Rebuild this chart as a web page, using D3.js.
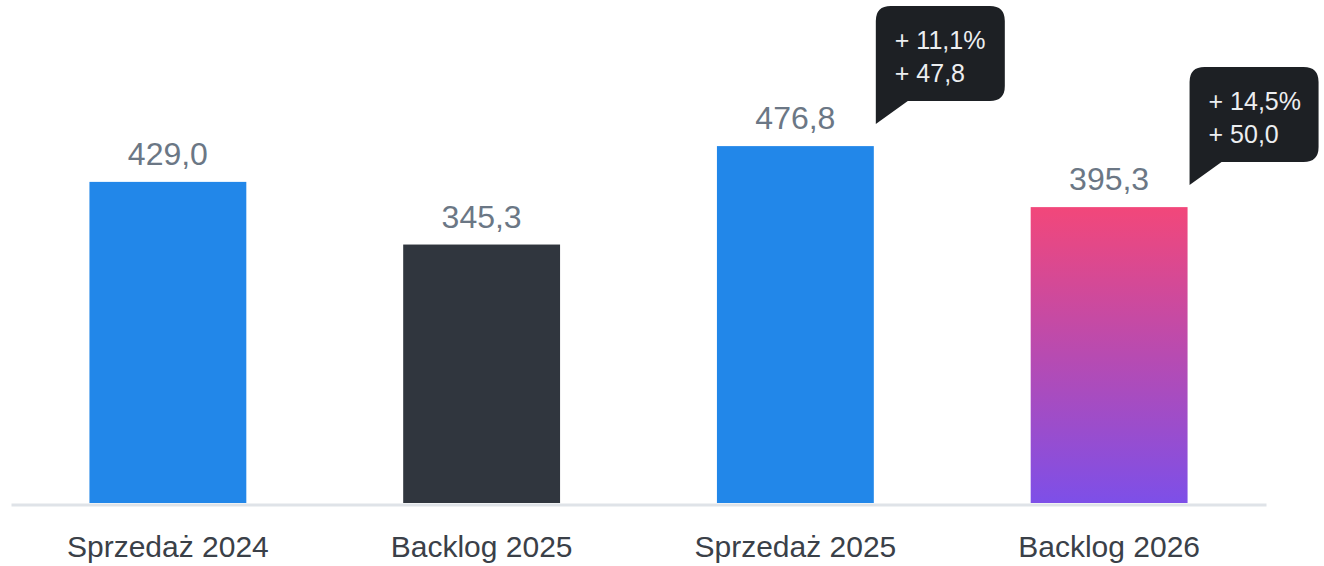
<!DOCTYPE html>
<html>
<head>
<meta charset="utf-8">
<script src="https://cdnjs.cloudflare.com/ajax/libs/d3/7.8.5/d3.min.js"></script>
<style>
  html, body { margin: 0; padding: 0; background: #fff; }
  svg { display: block; font-family: "Liberation Sans", Arial, sans-serif; }
</style>
</head>
<body>
<script>
// chart data
var categories = ["Sprzedaż 2024", "Backlog 2025", "Sprzedaż 2025", "Backlog 2026"];
var values = [429.0, 345.3, 476.8, 395.3];
var changePct = [null, null, 11.1, 14.5];
var changeAbs = [null, null, 47.8, 50.0];

var w = 1324, h = 566;
var base = 503;

var pl = d3.formatLocale({decimal: ",", thousands: " ", grouping: [3], currency: ["", ""]});
var fmt = pl.format(".1f");

var svg = d3.select("body").append("svg")
  .attr("width", w)
  .attr("height", h);

var defs = svg.append("defs");
var grad = defs.append("linearGradient")
  .attr("id", "backlogGrad")
  .attr("x1", 0).attr("y1", 0).attr("x2", 0).attr("y2", 1);
grad.append("stop").attr("offset", "0%").attr("stop-color", "#f2477a");
grad.append("stop").attr("offset", "100%").attr("stop-color", "#7d4fe8");

var xScale = d3.scaleBand()
  .domain(categories)
  .range([11, 1266])
  .paddingInner(0.5)
  .paddingOuter(0.25);

var yScale = d3.scaleLinear()
  .domain([0, 672])
  .range([base, 0]);

var colors = ["#2287e9", "#30363e", "#2287e9", "url(#backlogGrad)"];

var rows = categories.map(function(c, i) {
  return {cat: c, val: values[i], pct: changePct[i], abs: changeAbs[i], color: colors[i]};
});

// bars
svg.selectAll(".bar")
  .data(rows)
  .enter()
  .append("rect")
  .attr("class", "bar")
  .attr("x", function(d) { return xScale(d.cat); })
  .attr("y", function(d) { return yScale(d.val); })
  .attr("width", xScale.bandwidth())
  .attr("height", function(d) { return base - yScale(d.val); })
  .attr("fill", function(d) { return d.color; });

// base line
var xAxis = d3.axisBottom(xScale).tickSize(0).tickPadding(0).tickFormat("");
var ax = svg.append("g")
  .attr("transform", "translate(0," + (base + 1.5) + ")")
  .call(xAxis);
ax.select(".domain").attr("stroke", "#dfe3e8").attr("stroke-width", 3);

// category labels
svg.selectAll(".cat")
  .data(rows)
  .enter()
  .append("text")
  .attr("class", "cat")
  .attr("x", function(d) { return xScale(d.cat) + xScale.bandwidth() / 2; })
  .attr("y", 557)
  .attr("text-anchor", "middle")
  .attr("fill", "#3a4048")
  .style("font-size", "30px")
  .text(function(d) { return d.cat; });

// value labels
svg.selectAll(".val")
  .data(rows)
  .enter()
  .append("text")
  .attr("class", "val")
  .attr("x", function(d) { return xScale(d.cat) + xScale.bandwidth() / 2; })
  .attr("y", function(d) { return yScale(d.val) - 17; })
  .attr("text-anchor", "middle")
  .attr("fill", "#6b7785")
  .style("font-size", "32px")
  .text(function(d) { return fmt(d.val); });

// callouts
var bw = 129, bh = 95, r = 15;
var callouts = svg.selectAll(".callout")
  .data(rows.filter(function(d) { return d.pct != null; }))
  .enter()
  .append("g")
  .attr("class", "callout")
  .attr("transform", function(d) {
    var tx = xScale(d.cat) + xScale.bandwidth() + 2;
    var ty = yScale(d.val) - 22;
    return "translate(" + tx + "," + (ty - 118) + ")";
  });

callouts.append("path")
  .attr("d", "M0," + r + " Q0,0 " + r + ",0 H" + (bw - r) + " Q" + bw + ",0 " + bw + "," + r +
    " V" + (bh - r) + " Q" + bw + "," + bh + " " + (bw - r) + "," + bh +
    " H32 L0,118 Z")
  .attr("fill", "#1d2024");

callouts.append("text")
  .attr("x", 19)
  .attr("y", 43)
  .attr("fill", "#eceef0")
  .style("font-size", "25px")
  .text(function(d) { return "+ " + fmt(d.pct) + "%"; });

callouts.append("text")
  .attr("x", 19)
  .attr("y", 76)
  .attr("fill", "#eceef0")
  .style("font-size", "25px")
  .text(function(d) { return "+ " + fmt(d.abs); });
</script>
</body>
</html>
